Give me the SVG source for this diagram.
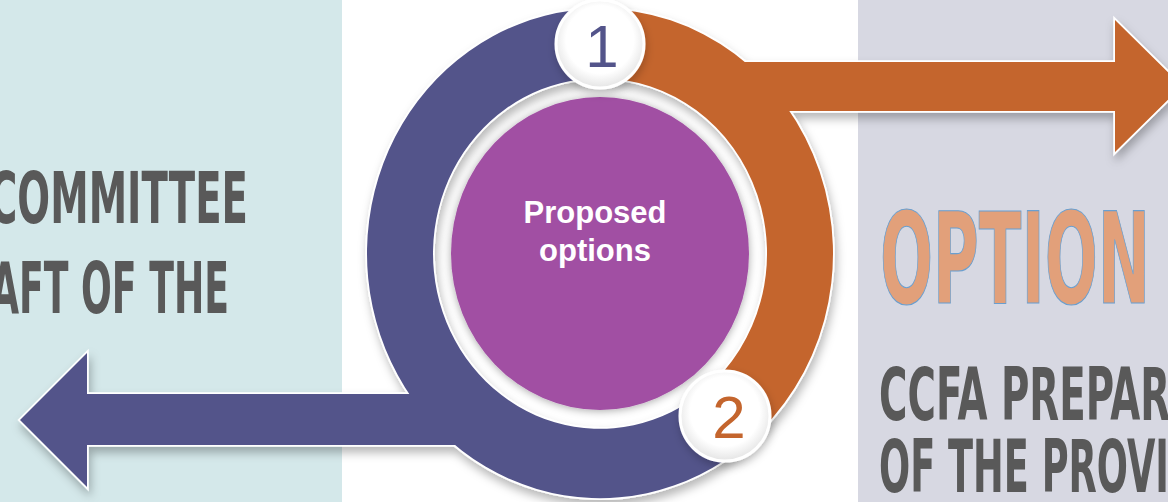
<svg xmlns="http://www.w3.org/2000/svg" xmlns:xlink="http://www.w3.org/1999/xlink" width="1168" height="502" viewBox="0 0 1168 502">
  <defs>
    <style>
      .pu{fill:#53548a}
      .or{fill:#c4652d}
      .wst{stroke:#ffffff;stroke-width:3.5;stroke-linejoin:miter}
      .big{font-family:"Liberation Sans Narrow","DejaVu Sans Condensed","Liberation Sans",sans-serif;font-weight:bold;fill:#595959}
      .num{font-family:"Liberation Sans",Arial,sans-serif;font-size:60px;text-anchor:middle}
      .ctr{font-family:"Liberation Sans",Arial,sans-serif;font-weight:bold;font-size:31px;fill:#ffffff;text-anchor:middle}
    </style>
    <filter id="sh" x="-10%" y="-10%" width="120%" height="130%">
      <feDropShadow dx="2" dy="6" stdDeviation="5" flood-color="#000" flood-opacity="0.28"/>
    </filter>
    <filter id="cs" x="-20%" y="-20%" width="140%" height="140%">
      <feDropShadow dx="0" dy="1" stdDeviation="4" flood-color="#000" flood-opacity="0.35"/>
    </filter>
    <filter id="bs" x="-30%" y="-30%" width="160%" height="160%">
      <feDropShadow dx="1" dy="4" stdDeviation="4" flood-color="#000" flood-opacity="0.22"/>
    </filter>
    <radialGradient id="bg" cx="50%" cy="45%" r="55%">
      <stop offset="0.7" stop-color="#ffffff"/>
      <stop offset="1" stop-color="#e4e4e4"/>
    </radialGradient>
    <path id="arcO" d="M 0 -233 A 233 233 0 0 1 146.6 181.1 L 105.1 129.8 A 167 167 0 0 0 0 -167 Z"/>
    <path id="arcP" d="M 146.6 181.1 A 233 233 0 1 1 0 -233 L 0 -167 A 167 167 0 1 0 105.1 129.8 Z"/>
    <polygon id="arrO" points="740,62 1115,62 1115,20 1182,86 1115,152 1115,111 740,111"/>
    <polygon id="arrP" points="478,394 87,394 87,353 20,420 87,487 87,445 478,445"/>
  </defs>

  <g id="background">
    <rect x="0" y="0" width="1168" height="502" fill="#ffffff"/>
    <rect x="0" y="0" width="342" height="502" fill="#d4e8ea"/>
    <rect x="858" y="0" width="310" height="502" fill="#d7d8e2"/>
  </g>

  <g id="outline-layer" filter="url(#sh)">
    <g transform="translate(600 253.5) scale(1 1.05)">
      <use xlink:href="#arcP" class="pu wst" vector-effect="non-scaling-stroke"/>
      <use xlink:href="#arcO" class="or wst" vector-effect="non-scaling-stroke"/>
    </g>
    <use xlink:href="#arrO" class="or wst"/>
    <use xlink:href="#arrP" class="pu wst"/>
  </g>

  <g id="node-arc-purple" transform="translate(600 253.5) scale(1 1.05)">
    <use xlink:href="#arcP" class="pu"/>
  </g>
  <g id="node-arc-orange" transform="translate(600 253.5) scale(1 1.05)">
    <use xlink:href="#arcO" class="or"/>
  </g>

  <g id="connectors">
    <use xlink:href="#arrO" class="or"/>
    <use xlink:href="#arrP" class="pu"/>
  </g>

  <g id="node-center">
    <ellipse cx="600" cy="253.5" rx="149" ry="156.5" fill="#a14fa3" filter="url(#cs)"/>
    <text class="ctr" x="595" y="223">Proposed</text>
    <text class="ctr" x="595" y="261">options</text>
  </g>

  <g id="node-bubble-1">
    <circle cx="600" cy="44" r="44" fill="url(#bg)" stroke="#ffffff" stroke-width="3" filter="url(#bs)"/>
    <text class="num" x="602" y="67" fill="#53548a">1</text>
  </g>

  <g id="node-bubble-2">
    <circle cx="725" cy="416" r="45" fill="url(#bg)" stroke="#ffffff" stroke-width="3" filter="url(#bs)"/>
    <text class="num" x="729" y="438" fill="#c4652d">2</text>
  </g>

  <g id="node-left-text">
    <text class="big" x="-11" y="223" font-size="71" textLength="259" lengthAdjust="spacingAndGlyphs">COMMITTEE</text>
    <text class="big" x="-9" y="313" font-size="71" textLength="238" lengthAdjust="spacingAndGlyphs">AFT OF THE</text>
  </g>

  <g id="node-right-text">
    <text class="big" x="880" y="303" font-size="127" textLength="270" lengthAdjust="spacingAndGlyphs" style="fill:#e2a07a;stroke:#6a9fcf;stroke-width:1.2">OPTION</text>
    <text class="big" x="879" y="420" font-size="73" textLength="291" lengthAdjust="spacingAndGlyphs">CCFA PREPAR</text>
    <text class="big" x="879" y="492" font-size="73" textLength="290" lengthAdjust="spacingAndGlyphs">OF THE PROVI</text>
  </g>
</svg>
